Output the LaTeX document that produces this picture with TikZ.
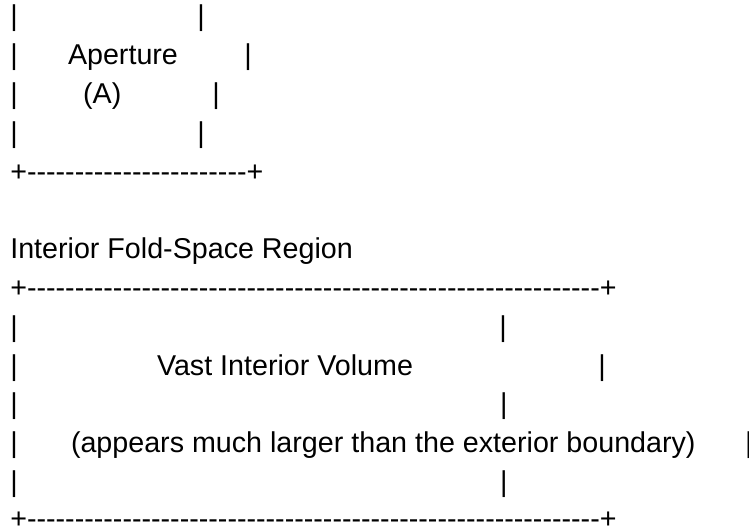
\documentclass[tikz,border=0pt]{standalone}
\usepackage{fontspec}
\newfontfamily\asc{Liberation Sans}
\newcommand\hyph[1]{\count255=#1\relax\loop -\kern0pt\advance\count255 by -1\relax\ifnum\count255>0 \repeat}
\begin{document}
\begin{tikzpicture}[x=0.75pt,y=-0.75pt,
  tx/.style={anchor=base west,inner sep=0pt,outer sep=0pt,text=black,font=\asc\fontsize{21.5pt}{26pt}\selectfont}]
\fill[white] (0,0) rectangle (749,529);
\useasboundingbox (0,0) rectangle (749,529);
% exterior aperture box (upper part cut off)
\node[tx] (l1a) at (10.3,25.9) {|};
\node[tx] (l1b) at (197.3,25.9) {|};
\node[tx] (l2a) at (10.3,64.7) {|};
\node[tx] (ap) at (68,64.7) {Aperture};
\node[tx] (l2b) at (244.3,64.7) {|};
\node[tx] (l3a) at (10.3,103.5) {|};
\node[tx] (apA) at (83.2,103.5) {(A)};
\node[tx] (l3b) at (212.3,103.5) {|};
\node[tx] (l4a) at (10.3,142.3) {|};
\node[tx] (l4b) at (197.3,142.3) {|};
\node[tx] (l5) at (10.3,181.1) {+\hyph{23}+};
% interior region
\node[tx] (title) at (10.3,258.7) {Interior Fold-Space Region};
\node[tx] (l8) at (10.3,297.5) {+\hyph{60}+};
\node[tx] (l9a) at (10.3,336.3) {|};
\node[tx] (l9b) at (499.3,336.3) {|};
\node[tx] (l10a) at (10.3,375.1) {|};
\node[tx] (vast) at (157,375.1) {Vast Interior Volume};
\node[tx] (l10b) at (598.3,375.1) {|};
\node[tx] (l11a) at (10.3,413.9) {|};
\node[tx] (l11b) at (500,413.9) {|};
\node[tx] (l12a) at (10.3,452.7) {|};
\node[tx] (note) at (71,452.7) {(appears much larger than the exterior boundary)};
\node[tx] (l12b) at (745,452.7) {|};
\node[tx] (l13a) at (10.3,491.5) {|};
\node[tx] (l13b) at (500,491.5) {|};
\node[tx] (l14) at (10.3,528.6) {+\hyph{60}+};
\end{tikzpicture}
\end{document}
